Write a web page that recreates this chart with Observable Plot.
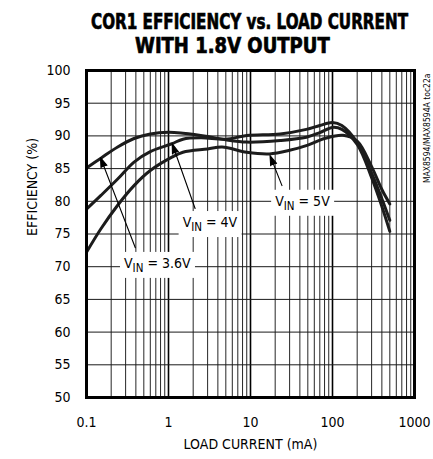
<!DOCTYPE html>
<html><head><meta charset="utf-8">
<script src="https://cdn.jsdelivr.net/npm/d3@7"></script>
<script src="https://cdn.jsdelivr.net/npm/@observablehq/plot@0.6"></script>
<style>
body{margin:0;background:#fff;}
#wrap{position:relative;width:433px;height:459px;overflow:hidden;}
#title{position:absolute;left:0;top:0;width:433px;height:60px;font-family:"DejaVu Sans Condensed","Liberation Sans Narrow",sans-serif;font-weight:bold;color:#000;font-size:19px;line-height:19px;}
#title div{position:absolute;left:0;white-space:nowrap;transform-origin:0 0;-webkit-text-stroke:0.6px #000;}
#chart{position:absolute;left:0;top:0;}
</style></head><body>
<div id="wrap"><div id="chart"></div><div id="title"></div></div>
<script>
// ---- data ----
const titleLines = ["COR1 EFFICIENCY vs. LOAD CURRENT", "WITH 1.8V OUTPUT"];
const xLabel = "LOAD CURRENT (mA)";
const yLabel = "EFFICIENCY (%)";
const sideNote = "MAX8594/MAX8594A toc22a";
const xTicks = [0.1, 1, 10, 100, 1000];
const yTicks = [50, 55, 60, 65, 70, 75, 80, 85, 90, 95, 100];
const xGridMinor = [0.2,0.3,0.4,0.5,0.6,0.7,0.8,0.9,2,3,4,5,6,7,8,9,20,30,40,50,60,70,80,90,200,300,400,500,600,700,800,900];
const xGridMajor = [1, 10, 100];

const current36 = [0.1, 0.15, 0.24, 0.38, 0.6, 1.0, 1.5, 3, 5, 9, 23, 48, 70, 100, 130, 200, 300, 400, 500];
const eff36     = [85.1, 86.6, 88.3, 89.6, 90.3, 90.55, 90.4, 89.9, 89.4, 89.05, 89.3, 89.8, 90.5, 91.3, 91.0, 88.7, 83.6, 79.2, 75.4];

const current4 = [0.1, 0.15, 0.24, 0.38, 0.6, 1.1, 1.5, 2.5, 5, 9, 23, 48, 70, 100, 130, 200, 300, 400, 500];
const eff4     = [78.8, 80.9, 83.4, 86.0, 87.6, 88.8, 89.5, 89.7, 89.5, 90.05, 90.3, 91.0, 91.6, 92.05, 91.6, 89.0, 84.3, 80.4, 77.1];

const current5 = [0.1, 0.15, 0.24, 0.38, 0.6, 1.1, 1.5, 3, 4.5, 9, 17, 30, 50, 80, 134, 200, 300, 400, 500];
const eff5     = [72.2, 75.8, 79.4, 82.4, 84.7, 86.75, 87.5, 88.0, 88.3, 87.5, 87.25, 87.8, 88.6, 89.6, 90.1, 89.2, 85.3, 81.8, 79.6];

const labelText = ["V_IN = 3.6V", "V_IN = 4V", "V_IN = 5V"];
const labelX = [0.73, 3.2, 43];
const labelY = [70.5, 76.75, 80.0];

const arrowFromX = [0.394, 2.11, 24.2];
const arrowFromY = [72.9, 78.9, 82.4];
const arrowToX   = [0.148, 1.11, 17.3];
const arrowToY   = [86.7, 88.8, 87.0];

// ---- tables built from the arrays ----
const seriesDefs = [["3.6V", current36, eff36], ["4V", current4, eff4], ["5V", current5, eff5]];
const rows = seriesDefs.flatMap(([s, xs, ys]) => xs.map((x, i) => ({series: s, x, y: ys[i]})));
const labels = labelText.map((t, i) => ({t, x: labelX[i], y: labelY[i]}));
const arrows = arrowFromX.map((_, i) => ({x1: arrowFromX[i], y1: arrowFromY[i], x2: arrowToX[i], y2: arrowToY[i]}));

const FONT = "'DejaVu Sans Condensed','Liberation Sans Narrow',sans-serif";

const plot = Plot.plot({
  width: 433,
  height: 459,
  marginLeft: 86,
  marginRight: 19,
  marginTop: 70,
  marginBottom: 62,
  style: {fontFamily: FONT, fontSize: "14px", background: "white", color: "#000"},
  x: {type: "log", domain: [0.1, 1000]},
  y: {domain: [50, 100]},
  marks: [
    Plot.ruleX(xGridMinor, {stroke: "#262626", strokeWidth: 1}),
    Plot.ruleX(xGridMajor, {stroke: "#000", strokeWidth: 1.6}),
    Plot.ruleY(yTicks, {stroke: "#1a1a1a", strokeWidth: 1}),
    Plot.line(rows, {x: "x", y: "y", z: "series", curve: "catmull-rom", stroke: "#1c1c1c", strokeWidth: 3}),
    Plot.arrow(arrows, {x1: "x1", y1: "y1", x2: "x2", y2: "y2", stroke: "#000", strokeWidth: 1.1, headLength: 14, headAngle: 36}),
    Plot.text(labels, {x: "x", y: "y", text: "t", fontSize: 14, fill: "#000"}),
    Plot.frame({stroke: "#000", strokeWidth: 3}),
    Plot.axisX({ticks: xTicks, tickSize: 0, tickPadding: 20, tickFormat: d => String(d), label: null, fontSize: 14}),
    Plot.axisY({ticks: yTicks, tickSize: 0, tickPadding: 16, label: null, fontSize: 14}),
    Plot.text([xLabel], {frameAnchor: "bottom", dy: 51, fontSize: 14}),
    Plot.text([yLabel], {frameAnchor: "left", rotate: -90, dx: -54, dy: 2, fontSize: 14}),
    Plot.text([sideNote], {frameAnchor: "top-right", rotate: -90, textAnchor: "end", dx: 9, dy: 3, fontSize: 8.5})
  ]
});
document.getElementById("chart").appendChild(plot);

// filled arrowheads
d3.select(plot).selectAll("g[aria-label='arrow'] path").attr("fill", "#000").attr("stroke-linejoin", "miter");

// title, fitted to the reference's widths
const titleBoxes = [{left: 91, width: 317, top: 10.5}, {left: 135, width: 195, top: 34.5}];
const tdiv = document.getElementById("title");
titleLines.forEach((t, i) => {
  const d = document.createElement("div");
  d.textContent = t;
  d.style.top = titleBoxes[i].top + "px";
  tdiv.appendChild(d);
  const w = d.offsetWidth;
  d.style.transform = `translate(${titleBoxes[i].left}px,0) scale(${titleBoxes[i].width / w},1.15)`;
});

// subscripts and white boxes for the V_IN labels
const svgNS = "http://www.w3.org/2000/svg";
d3.select(plot).selectAll("text").filter(function() { return this.textContent.startsWith("V_IN"); }).each(function() {
  const rest = this.textContent.slice(4);
  this.textContent = "";
  const a = document.createElementNS(svgNS, "tspan"); a.textContent = "V";
  const b = document.createElementNS(svgNS, "tspan"); b.textContent = "IN"; b.setAttribute("dy", "4"); b.setAttribute("font-size", "11.5");
  const c = document.createElementNS(svgNS, "tspan"); c.textContent = rest; c.setAttribute("dy", "-4");
  this.append(a, b, c);
  const bb = this.getBBox();
  const r = document.createElementNS(svgNS, "rect");
  r.setAttribute("x", bb.x - 4); r.setAttribute("y", bb.y - 3);
  r.setAttribute("width", bb.width + 8); r.setAttribute("height", bb.height + 6);
  r.setAttribute("fill", "white");
  if (this.getAttribute("transform")) r.setAttribute("transform", this.getAttribute("transform"));
  this.parentNode.insertBefore(r, this);
});
</script>
</body></html>
